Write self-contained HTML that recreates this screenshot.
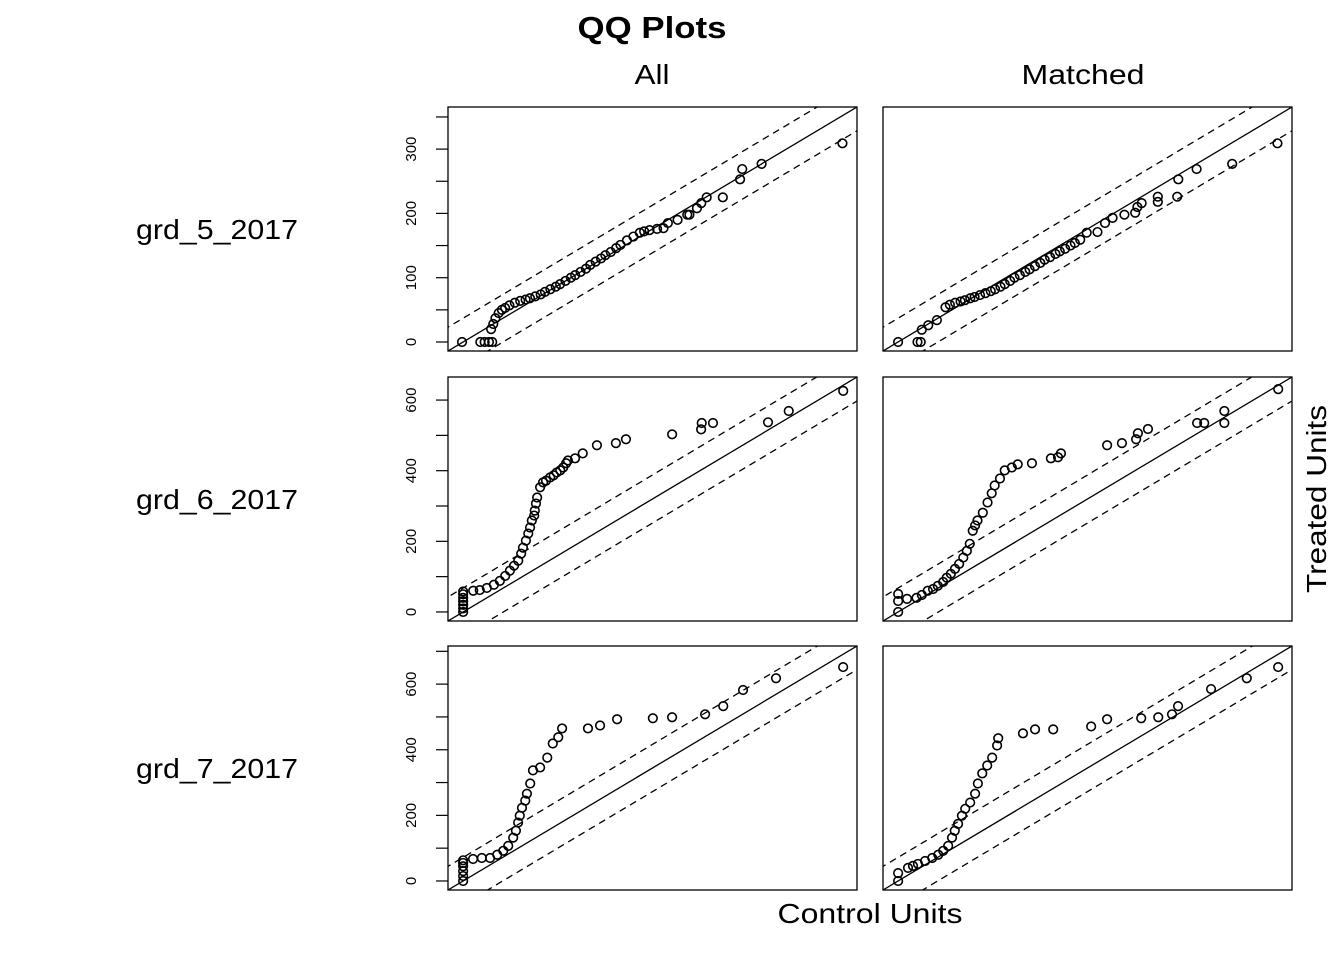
<!DOCTYPE html>
<html><head><meta charset="utf-8"><style>
body{margin:0;background:#fff;}
svg{display:block;font-family:"Liberation Sans",Arial,sans-serif;}
</style></head><body>
<svg id="chart" width="1344" height="960">
<text x="652" y="38" text-anchor="middle" font-size="31" font-weight="bold" textLength="149" lengthAdjust="spacingAndGlyphs">QQ Plots</text>
<text x="652" y="84" text-anchor="middle" font-size="28" textLength="35" lengthAdjust="spacingAndGlyphs">All</text>
<text x="1083" y="84" text-anchor="middle" font-size="28" textLength="123" lengthAdjust="spacingAndGlyphs">Matched</text>
<text x="870" y="923" text-anchor="middle" font-size="28" textLength="185" lengthAdjust="spacingAndGlyphs">Control Units</text>
<text x="0" y="0" transform="translate(1326,499) rotate(-90)" text-anchor="middle" font-size="28" textLength="188" lengthAdjust="spacingAndGlyphs">Treated Units</text>
</svg>
<script>
const rowLabels = ["grd_5_2017","grd_6_2017","grd_7_2017"];
const rowDomains = [[-14,365.5],[-25.6,665.3],[-27.5,716.2]];
const rowTickLabels = [[0,100,200,300],[0,200,400,600],[0,200,400,600]];
const rowMinorTicks = [[50,150,250,350],[100,300,500],[100,300,500,700]];
const bandOffsets = [37,68,72];

const allX1=[-1,16,20,24,27,26,28,30,33,36,39,43,48,53,58,62,67,72,76,81,86,90,95,100,104,109,114,118,123,128,132,137,142,146,152,158,164,168,173,180,186,190,199,208,210,217,221,226,241,257,259,277,352];
const allY1=[0,0,0,0,0,20,28,37,45,50,53,57,61,64,66,68,71,74,78,82,86,90,95,100,104,109,114,120,125,130,135,140,146,151,158,164,170,172,174,176,177,185,190,198,198,208,216,225,225,253,269,277,309];
const matX1=[0,18,21,22,28,36,44,48,53,58,62,67,71,76,81,86,90,95,99,104,108,113,118,122,127,132,136,141,146,150,155,160,164,169,175,185,192,199,210,220,222,226,241,241,259,260,277,310,352];
const matY1=[0,0,0,19,26,34,54,58,61,63,65,68,70,73,76,79,82,86,90,95,100,104,109,113,118,123,128,132,137,141,145,150,154,159,170,171,185,193,198,201,210,216,226,218,226,253,269,277,309];
const allX2=[0,0,0,0,0,0,0,17,28,40,52,62,71,79,86,93,98,101,106,110,113,116,120,121,123,125,130,135,140,147,153,158,164,169,174,177,189,202,226,258,275,353,402,403,422,515,550,642];
const allY2=[0,10,20,30,40,50,58,60,62,68,77,88,102,117,131,145,165,182,202,222,239,259,273,287,307,324,353,367,372,381,387,395,401,409,421,429,435,449,472,478,489,503,517,535,535,537,569,626];
const matX2=[0,0,0,15,31,40,50,59,67,76,82,89,96,103,110,116,121,126,130,134,143,151,158,163,172,180,192,202,226,258,270,275,353,378,402,405,422,505,517,551,551,642];
const matY2=[0,31,51,37,40,48,60,65,74,85,97,108,122,136,154,173,193,230,245,259,281,310,336,358,378,401,409,418,421,435,438,449,472,478,489,506,518,535,535,569,535,631];
const allX3=[0,0,0,0,0,0,18,34,49,62,73,82,91,96,100,103,107,113,116,122,127,140,153,163,173,180,227,249,280,345,380,440,473,509,569,691];
const allY3=[0,15,30,45,55,63,67,70,70,80,92,107,132,153,178,199,223,245,266,297,337,346,376,419,438,465,465,474,493,496,499,508,533,582,618,652];
const matX3=[0,0,18,27,36,49,62,73,82,91,98,103,109,116,122,131,140,145,153,162,171,180,182,227,249,282,351,380,442,473,498,509,569,634,691];
const matY3=[0,24,40,46,52,61,70,80,92,107,132,153,174,199,220,239,266,297,328,352,376,413,435,450,462,462,471,493,496,499,508,533,585,618,652];

const panelXs=[[allX1,matX1],[allX2,matX2],[allX3,matX3]];
const panelYs=[[allY1,matY1],[allY2,matY2],[allY3,matY3]];

const NS="http://www.w3.org/2000/svg";
const svg=document.getElementById("chart");
const colLeft=[448,883], W=409, rowTop=[107,377,646], H=244;
const colNames=["all","matched"];
function mk(tag,attrs,parent){const e=document.createElementNS(NS,tag);for(const k in attrs)e.setAttribute(k,attrs[k]);(parent||svg).appendChild(e);return e;}

for(let r=0;r<3;r++){
  const [d0,d1]=rowDomains[r];
  const top=rowTop[r];
  const sy=v=>top+H-(v-d0)/(d1-d0)*H;
  const lab=mk("text",{x:217,y:top+H/2+10,"text-anchor":"middle","font-size":28,textLength:162,lengthAdjust:"spacingAndGlyphs"});
  lab.textContent=rowLabels[r];
  
  
  const all=rowTickLabels[r].concat(rowMinorTicks[r]);
  all.forEach(t=>{
    const tk=mk("line",{x1:436,x2:448,y1:sy(t),y2:sy(t),stroke:"#000","stroke-width":1.2});
    
    
  });
  rowTickLabels[r].forEach(t=>{
    const tl=mk("text",{transform:`translate(416,${sy(t)}) rotate(-90)`,"text-anchor":"middle","font-size":15});
    tl.textContent=t;
    
    
  });
  for(let c=0;c<2;c++){
    const left=colLeft[c];
    const sx=v=>left+(v-d0)/(d1-d0)*W;
    const g=mk("g",{});
    
    
    const cid="clip"+r+c;
    const cp=mk("clipPath",{id:cid},g);
    mk("rect",{x:left,y:top,width:W,height:H},cp);
    const lines=mk("g",{"clip-path":`url(#${cid})`},g);
    const off=bandOffsets[r];
    const diag=mk("line",{x1:sx(d0),y1:sy(d0),x2:sx(d1),y2:sy(d1),stroke:"#000","stroke-width":1.3},lines);
    
    
    [off,-off].forEach(o=>{
      const dl=mk("line",{x1:sx(d0-100),y1:sy(d0-100+o),x2:sx(d1+100),y2:sy(d1+100+o),stroke:"#000","stroke-width":1.3,"stroke-dasharray":"7,5"},lines);
      
      
    });
    const xs=panelXs[r][c], ys=panelYs[r][c];
    for(let i=0;i<xs.length;i++){
      const p=mk("circle",{cx:sx(xs[i]),cy:sy(ys[i]),r:4.3,fill:"none",stroke:"#000","stroke-width":1.6},g);
      
      
    }
    const fr=mk("rect",{x:left,y:top,width:W,height:H,fill:"none",stroke:"#000","stroke-width":1.3},g);
    
    
  }
}
</script>
</body></html>
